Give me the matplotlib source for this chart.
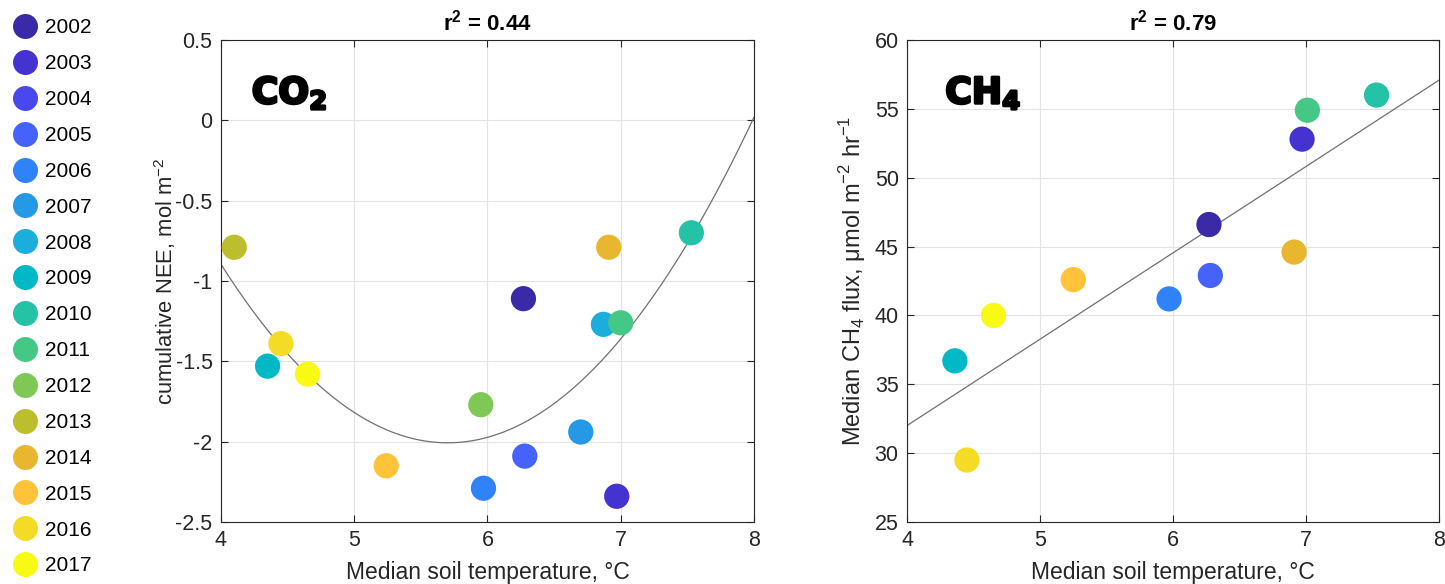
import numpy as np
import matplotlib
matplotlib.use("Agg")
import matplotlib.pyplot as plt
import matplotlib.patheffects as pe
from matplotlib.lines import Line2D

plt.rcParams['font.family'] = ['Liberation Sans', 'DejaVu Sans']
plt.rcParams['axes.unicode_minus'] = False
plt.rcParams['mathtext.fontset'] = 'custom'
plt.rcParams['mathtext.rm'] = 'Liberation Sans'
plt.rcParams['mathtext.bf'] = 'DejaVu Sans:bold'

# legend years and parula-like colours
years = list(range(2002, 2018))
year_colors = ['#3b2aa8', '#4433d0', '#4848ee', '#4563fb', '#2f82f8', '#2598e6',
               '#1badde', '#01b8c6', '#25c2a8', '#45c886', '#80c855', '#bdbe2e',
               '#e8b72f', '#fec338', '#f4dc26', '#f9fa14']

# CO2 panel
co2_years = [2002, 2003, 2005, 2006, 2007, 2008, 2009, 2010, 2011, 2012, 2013, 2014, 2015, 2016, 2017]
co2_temp = [6.27, 6.97, 6.28, 5.97, 6.70, 6.87, 4.35, 7.53, 7.00, 5.95, 4.10, 6.91, 5.24, 4.45, 4.65]
co2_nee = [-1.11, -2.34, -2.09, -2.29, -1.94, -1.27, -1.53, -0.70, -1.26, -1.77, -0.79, -0.79, -2.15, -1.39, -1.58]

# CH4 panel
ch4_years = [2002, 2003, 2005, 2006, 2009, 2010, 2011, 2014, 2015, 2016, 2017]
ch4_temp = [6.27, 6.97, 6.28, 5.97, 4.36, 7.53, 7.01, 6.91, 5.25, 4.45, 4.65]
ch4_flux = [46.6, 52.8, 42.9, 41.2, 36.7, 56.0, 54.9, 44.6, 42.6, 29.5, 40.0]

cmap = dict(zip(years, year_colors))

fig = plt.figure(figsize=(14.45, 5.84), dpi=100)
ax1 = fig.add_axes([0.1529, 0.1062, 0.3689, 0.8253])
ax2 = fig.add_axes([0.6277, 0.1062, 0.3682, 0.8253])

def style(ax):
    ax.grid(True, color='#e3e3e3', lw=0.8)
    ax.set_axisbelow(True)
    ax.tick_params(direction='in', length=5, top=True, right=True, labelsize=15.5,
                   color='#262626', labelcolor='#262626', pad=6)
    for s in ax.spines.values():
        s.set_color('#262626')
        s.set_linewidth(0.8)
    ax.set_xlim(4, 8)
    ax.set_xticks([4, 5, 6, 7, 8])
    ax.set_xlabel('Median soil temperature, °C', fontsize=16.5, color='#262626', labelpad=7)

xs = np.linspace(4, 8, 200)
heavy = [pe.withStroke(linewidth=2.0, foreground='black')]

# CO2 quadratic fit
c = np.polyfit(co2_temp, co2_nee, 2)
ax1.plot(xs, np.polyval(c, xs), color='#707070', lw=0.9, zorder=2)
ax1.scatter(co2_temp, co2_nee, s=330, c=[cmap[y] for y in co2_years], zorder=3, linewidths=0)
style(ax1)
ax1.set_ylim(-2.5, 0.5)
ax1.set_yticks([-2.5, -2, -1.5, -1, -0.5, 0, 0.5])
ax1.set_yticklabels(['-2.5', '-2', '-1.5', '-1', '-0.5', '0', '0.5'])
ax1.set_ylabel('cumulative NEE, mol m$^{-2}$', fontsize=15.8, color='#262626', labelpad=-2)
ax1.set_title('r$^{\\mathregular{2}}$ = 0.44', fontsize=16, fontweight='bold', pad=7)
ax1.text(0.058, 0.868, 'CO$_{\\mathbf{2}}$', transform=ax1.transAxes, fontsize=26,
         fontweight='bold', family='DejaVu Sans', va='baseline', path_effects=heavy)

# CH4 linear fit
c2 = np.polyfit(ch4_temp, ch4_flux, 1)
ax2.plot(xs, np.polyval(c2, xs), color='#707070', lw=0.9, zorder=2)
ax2.scatter(ch4_temp, ch4_flux, s=330, c=[cmap[y] for y in ch4_years], zorder=3, linewidths=0)
style(ax2)
ax2.set_ylim(25, 60)
ax2.set_yticks(np.arange(25, 61, 5))
ax2.set_ylabel('Median CH$_4$ flux, μmol m$^{-2}$ hr$^{-1}$', fontsize=17, color='#262626', labelpad=5)
ax2.set_title('r$^{\\mathregular{2}}$ = 0.79', fontsize=16, fontweight='bold', pad=7)
ax2.text(0.072, 0.868, 'CH$_{\\mathbf{4}}$', transform=ax2.transAxes, fontsize=26,
         fontweight='bold', family='DejaVu Sans', va='baseline', path_effects=heavy)

handles = [Line2D([], [], marker='o', ls='', markersize=18, markerfacecolor=col,
                  markeredgewidth=0) for col in year_colors]
fig.legend(handles, [str(y) for y in years], loc='upper left', bbox_to_anchor=(0.0, 0.99),
           frameon=False, fontsize=15, labelspacing=0.81, handletextpad=0.35,
           handlelength=1.2, borderaxespad=0.2)

fig.savefig('out.png', dpi=100)
